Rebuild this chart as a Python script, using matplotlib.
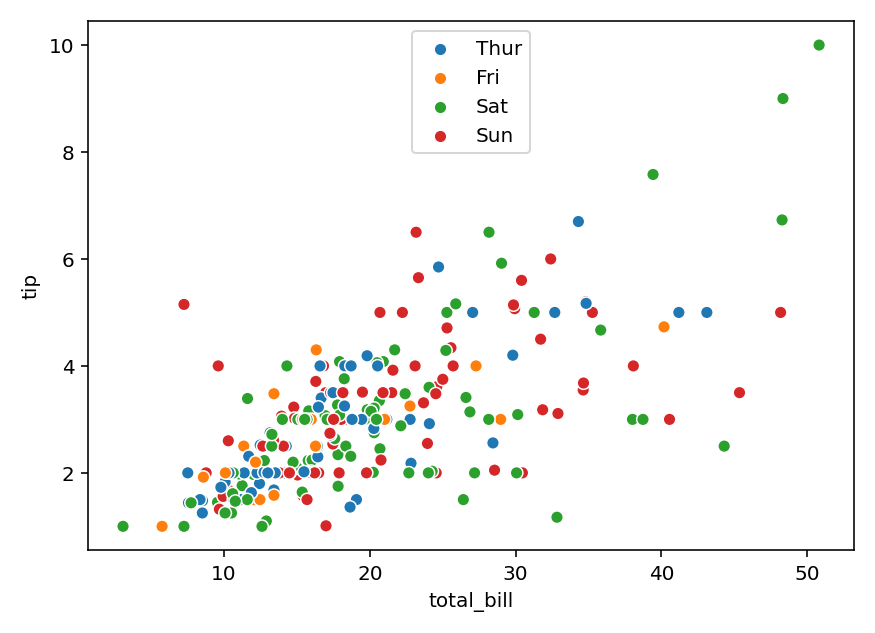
import matplotlib
matplotlib.use("Agg")
import matplotlib.pyplot as plt
import numpy as np

total_bill = [16.99,10.34,21.01,23.68,24.59,25.29,8.77,26.88,15.04,14.78,10.27,35.26,15.42,18.43,14.83,21.58,10.33,16.29,16.97,
20.65,17.92,20.29,15.77,39.42,19.82,17.81,13.37,12.69,21.7,19.65,9.55,18.35,15.06,20.69,17.78,24.06,16.31,16.93,18.69,31.27,16.04,
17.46,13.94,9.68,30.4,18.29,22.23,32.4,28.55,18.04,12.54,10.29,34.81,9.94,25.56,19.49,
38.01,26.41,11.24,48.27,20.29,13.81,11.02,18.29,17.59,20.08,16.45,3.07,20.23,15.01,12.02,17.07,26.86,25.28,14.73,10.51,17.92,
27.2,22.76,17.29,19.44,16.66,10.07,32.68,15.98,34.83,13.03,18.28,24.71,21.16,
28.97,22.49,5.75,16.32,22.75,40.17,27.28,12.03,21.01,12.46,11.35,15.38,
44.3,22.42,20.92,15.36,20.49,25.21,18.24,14.31,14.0,7.25,
38.07,23.95,25.71,17.31,29.93,
10.65,12.43,24.08,11.69,13.42,14.26,15.95,12.48,29.8,8.52,14.52,11.38,22.82,19.08,20.27,11.17,12.26,18.26,8.51,10.33,14.15,16.0,13.16,17.47,34.3,41.19,27.05,16.43,8.35,18.64,11.87,9.78,7.51,
14.07,13.13,17.26,24.55,19.77,29.85,48.17,25.0,13.39,16.49,21.5,12.66,16.21,13.81,17.51,24.52,20.76,31.71,
10.59,10.63,50.81,15.81,
7.25,31.85,16.82,32.9,17.89,14.48,9.6,34.63,34.65,23.33,45.35,23.17,40.55,20.69,20.9,30.46,18.15,23.1,15.69,
19.81,28.44,15.48,16.58,7.56,10.34,43.11,13.0,13.51,18.71,12.74,13.0,16.4,20.53,16.47,
26.59,38.73,24.27,12.76,30.06,25.89,48.33,13.27,28.17,12.9,28.15,11.59,7.74,30.14,
12.16,13.42,8.58,15.98,13.42,16.27,10.09,
20.45,13.28,22.12,24.01,15.69,11.61,10.77,15.53,10.07,12.6,32.83,35.83,29.03,27.18,22.67,17.82,
18.78]
tip = [1.01,1.66,3.5,3.31,3.61,4.71,2.0,3.12,1.96,3.23,1.71,5.0,1.57,3.0,3.02,3.92,1.67,3.71,3.5,
3.35,4.08,2.75,2.23,7.58,3.18,2.34,2.0,2.0,4.3,3.0,1.45,2.5,3.0,2.45,3.27,3.6,2.0,3.07,2.31,5.0,2.24,
2.54,3.06,1.32,5.6,3.0,5.0,6.0,2.05,3.0,2.5,2.6,5.2,1.56,4.34,3.51,
3.0,1.5,1.76,6.73,3.21,2.0,1.98,3.76,2.64,3.15,2.47,1.0,2.01,2.09,1.97,3.0,3.14,5.0,2.2,1.25,3.08,
4.0,3.0,2.71,3.0,3.4,1.83,5.0,2.03,5.17,2.0,4.0,5.85,3.0,
3.0,3.5,1.0,4.3,3.25,4.73,4.0,1.5,3.0,1.5,2.5,3.0,
2.5,3.48,4.08,1.64,4.06,4.29,3.76,4.0,3.0,1.0,
4.0,2.55,4.0,3.5,5.07,
1.5,1.8,2.92,2.31,1.68,2.5,2.0,2.52,4.2,1.48,2.0,2.0,2.18,1.5,2.83,1.5,2.0,3.25,1.25,2.0,2.0,2.0,2.75,3.5,6.7,5.0,5.0,2.3,1.5,1.36,1.63,1.73,2.0,
2.5,2.0,2.74,2.0,2.0,5.14,5.0,3.75,2.61,2.0,3.5,2.5,2.0,2.0,3.0,3.48,2.24,4.5,
1.61,2.0,10.0,3.16,
5.15,3.18,4.0,3.11,2.0,2.0,4.0,3.55,3.68,5.65,3.5,6.5,3.0,5.0,3.5,2.0,3.5,4.0,1.5,
4.19,2.56,2.02,4.0,1.44,2.0,5.0,2.0,2.0,4.0,2.01,2.0,2.5,4.0,3.23,
3.41,3.0,2.03,2.23,2.0,5.16,9.0,2.5,6.5,1.1,3.0,1.5,1.44,3.09,
2.2,3.48,1.92,3.0,1.58,2.5,2.0,
3.0,2.72,2.88,2.0,3.0,3.39,1.47,3.0,1.25,1.0,1.17,4.67,5.92,2.0,2.0,1.75,
3.0]
day_counts = [("Sun",19),("Sat",22),("Sun",15),("Sat",21),("Thur",13),("Fri",12),("Sat",10),("Sun",5),
("Thur",33),("Sun",18),("Sat",4),("Sun",19),("Thur",15),("Sat",14),("Fri",7),("Sat",16),("Thur",1)]
day = [d for d, n in day_counts for _ in range(n)]

days = ["Thur", "Fri", "Sat", "Sun"]
palette = {"Thur": "#1f77b4", "Fri": "#ff7f0e", "Sat": "#2ca02c", "Sun": "#d62728"}

fig, ax = plt.subplots(figsize=(6.08, 4.4), dpi=144)
ax.scatter(total_bill, tip, c=[palette[d] for d in day], edgecolors="white", linewidths=0.75, s=40)
for d in days:
    ax.scatter([], [], c=palette[d], edgecolors="white", linewidths=0.75, s=40, label=d)
ax.legend(loc="upper center")
ax.set_xlabel("total_bill")
ax.set_ylabel("tip")
fig.tight_layout()
fig.savefig("out.png")
